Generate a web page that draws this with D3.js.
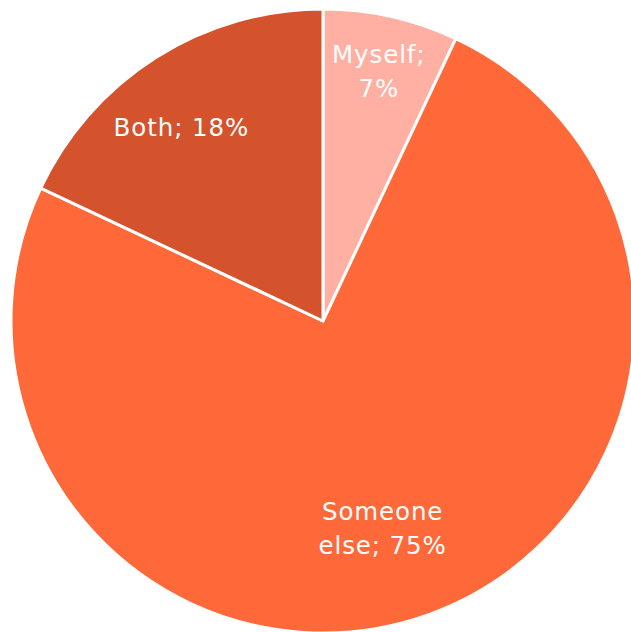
<!DOCTYPE html>
<html>
<head>
<meta charset="utf-8">
<script src="https://cdn.jsdelivr.net/npm/d3@7"></script>
<style>
  html, body { margin: 0; padding: 0; background: #fff; }
  svg { display: block; }
</style>
</head>
<body>
<svg id="chart" width="631" height="632"></svg>
<script>
// Who the respondents answered for
const categories = ["Myself", "Someone else", "Both"];
const shares = [7, 75, 18];
const sliceColors = ["#FFB0A2", "#FF6838", "#D4532D"];
// Label lines per slice (drawn inside the slice)
const labelLines = [["Myself;", "7%"], ["Someone", "else; 75%"], ["Both; 18%"]];

const width = 631, height = 632;
const cx = 323, cy = 321, radius = 312;

const svg = d3.select("#chart");
const g = svg.append("g").attr("transform", `translate(${cx},${cy})`);

const pie = d3.pie().sort(null).value(d => d.value);
const data = categories.map((c, i) => ({ name: c, value: shares[i], i }));
const arcs = pie(data);

const arc = d3.arc().innerRadius(0).outerRadius(radius);

g.selectAll("path.slice")
  .data(arcs)
  .join("path")
  .attr("class", "slice")
  .attr("d", arc)
  .attr("fill", d => sliceColors[d.data.i])
  .attr("stroke", "#fff")
  .attr("stroke-width", 3)
  .attr("stroke-linejoin", "round");

// Label placement radius (fraction of pie radius) and angle nudge per slice
const labelRadius = [0.82, 0.69, 0.77];
const labelAngleShift = [0, 0.065, -0.065];
const lineHeight = 34;

arcs.forEach((a, k) => {
  const mid = (a.startAngle + a.endAngle) / 2 + labelAngleShift[k];
  const r = radius * labelRadius[k];
  const x = Math.sin(mid) * r;
  const y = -Math.cos(mid) * r;
  const lines = labelLines[k];
  const t = g.append("text")
    .attr("x", x)
    .attr("y", y - (lines.length - 1) * lineHeight / 2)
    .attr("text-anchor", "middle")
    .attr("dominant-baseline", "central")
    .attr("fill", "#fff")
    .style("font-family", "'DejaVu Sans', sans-serif")
    .style("font-size", "24.5px")
    .style("letter-spacing", "0.9px");
  lines.forEach((ln, j) => {
    t.append("tspan")
      .attr("x", x)
      .attr("dy", j === 0 ? 0 : lineHeight)
      .text(ln);
  });
});
</script>
</body>
</html>
